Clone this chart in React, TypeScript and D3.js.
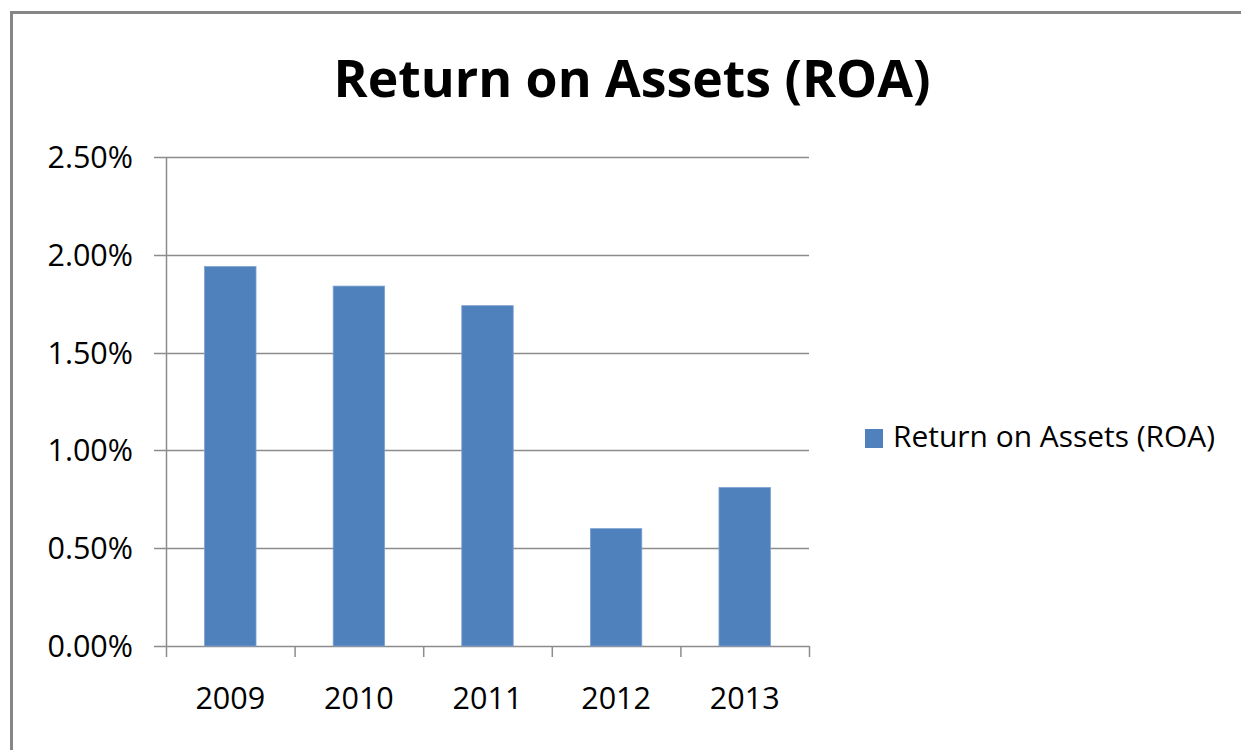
import React from "react";
import * as d3 from "d3";

const categories = ["2009", "2010", "2011", "2012", "2013"];
const roaValues = [1.94, 1.84, 1.74, 0.6, 0.81];
const yTicks = [0, 0.5, 1.0, 1.5, 2.0, 2.5];
const seriesName = "Return on Assets (ROA)";
const chartTitle = "Return on Assets (ROA)";

export default function App() {
  const W = 1241, H = 750;
  const left = 166, right = 809, top = 157, bottom = 646;
  const x = d3.scaleBand<string>().domain(categories).range([left, right]).paddingInner(0.6).paddingOuter(0.3);
  const xOuter = d3.scaleBand<string>().domain(categories).range([left, right]);
  const y = d3.scaleLinear().domain([0, 2.5]).range([bottom, top]);
  const font = "'Open Sans', 'DejaVu Sans', sans-serif";
  const grid = "#8c8c8c";
  const edges = categories.map((c) => xOuter(c) as number).concat([right]);

  return (
    <svg width={W} height={H} style={{ position: "absolute", left: 0, top: 0, background: "#fff" }} fontFamily={font}>
      <rect x={0} y={0} width={W} height={H} fill="#fff" />
      {/* outer border */}
      <path d={`M11.5,${H + 5} V12.5 H${W + 5}`} fill="none" stroke="#868686" strokeWidth={3} />
      <text x={632} y={97} textAnchor="middle" fontSize={52} fontWeight="bold" fill="#000" textLength={597} lengthAdjust="spacingAndGlyphs">
        {chartTitle}
      </text>
      {/* gridlines and y ticks */}
      {yTicks.map((t) => (
        <g key={t}>
          <line x1={154} x2={right} y1={Math.round(y(t)) + 0.5} y2={Math.round(y(t)) + 0.5} stroke={grid} strokeWidth={1.5} />
          <text x={133} y={y(t) + 11} textAnchor="end" fontSize={30.5} fill="#000">
            {d3.format(".2f")(t) + "%"}
          </text>
        </g>
      ))}
      {/* y axis line */}
      <line x1={left + 0.5} x2={left + 0.5} y1={top} y2={bottom} stroke={grid} strokeWidth={1.5} />
      {/* x tick marks */}
      {edges.map((e, i) => (
        <line key={i} x1={e + 0.5} x2={e + 0.5} y1={bottom} y2={bottom + 11} stroke={grid} strokeWidth={1.5} />
      ))}
      {/* bars */}
      {categories.map((c, i) => (
        <rect key={c} x={x(c)} y={y(roaValues[i])} width={x.bandwidth()} height={bottom - y(roaValues[i])} fill="#4f81bd" stroke="#7ea1d0" strokeWidth={0.8} />
      ))}
      {/* x labels */}
      {categories.map((c) => (
        <text key={c} x={(xOuter(c) as number) + xOuter.bandwidth() / 2} y={709} textAnchor="middle" fontSize={30.5} fill="#000">
          {c}
        </text>
      ))}
      {/* legend */}
      <rect x={865} y={429} width={18} height={19} fill="#4f81bd" />
      <text x={893} y={447} fontSize={30} fill="#000" textLength={322} lengthAdjust="spacingAndGlyphs">
        {seriesName}
      </text>
    </svg>
  );
}
